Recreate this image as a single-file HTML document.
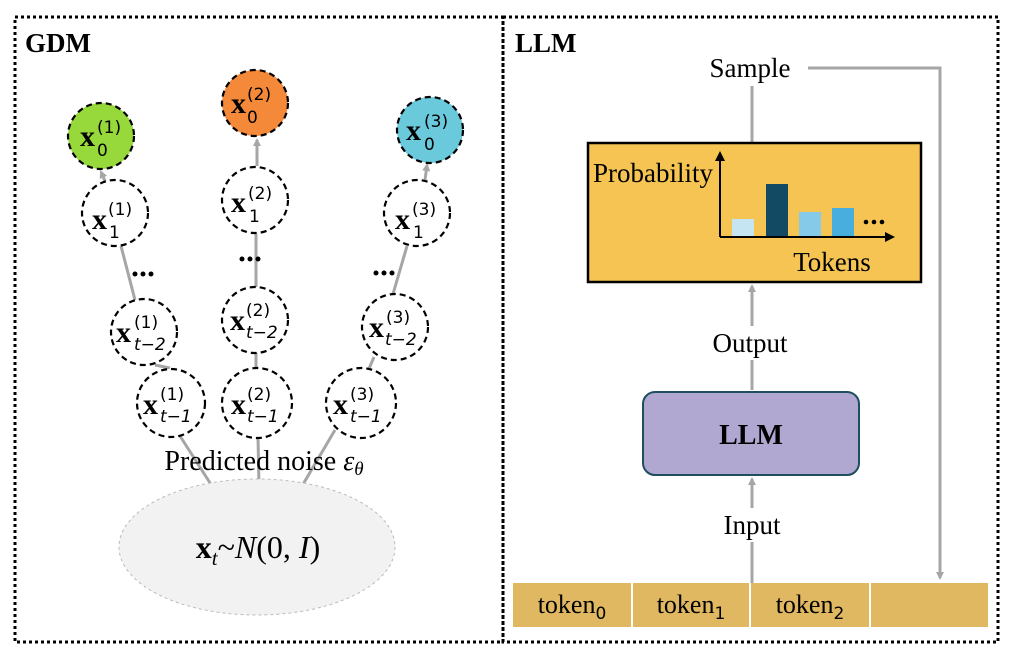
<!DOCTYPE html>
<html><head><style>body{margin:0;background:#fff}svg{display:block}</style></head><body>
<svg width="1011" height="658" viewBox="0 0 1011 658" xmlns="http://www.w3.org/2000/svg" font-family="Liberation Serif, serif">
<defs>
<marker id="ag" markerWidth="8" markerHeight="8" refX="6" refY="4" orient="auto" markerUnits="userSpaceOnUse"><path d="M0,0 L8,4 L0,8z" fill="#a6a6a6"/></marker>
<marker id="ab" markerWidth="10" markerHeight="10" refX="8" refY="5" orient="auto" markerUnits="userSpaceOnUse"><path d="M0,0 L10,5 L0,10z" fill="#000"/></marker>
</defs>
<rect x="15" y="17" width="488" height="625" fill="none" stroke="#000" stroke-width="3" stroke-dasharray="3,3"/>
<rect x="503" y="17" width="495" height="625" fill="none" stroke="#000" stroke-width="3" stroke-dasharray="3,3"/>
<text x="25" y="52" font-size="27" font-weight="bold">GDM</text>
<text x="515" y="52" font-size="27" font-weight="bold">LLM</text>
<g stroke="#a6a6a6" stroke-width="3" fill="none">
<path d="M212,486 L180,436"/><path d="M259,486 L258,437"/><path d="M302,486 L335,430"/>
<line x1="170" y1="368" x2="155" y2="365"/><line x1="256" y1="368" x2="256" y2="353"/><line x1="368" y1="371" x2="374" y2="357"/>
<line x1="135" y1="300" x2="121" y2="246"/><line x1="256" y1="287" x2="256" y2="234"/><line x1="393" y1="294" x2="407" y2="246"/>
<line x1="105" y1="181" x2="101" y2="172" marker-end="url(#ag)"/><line x1="257" y1="166" x2="257" y2="140" marker-end="url(#ag)"/><line x1="425" y1="180" x2="427" y2="165" marker-end="url(#ag)"/>
</g>
<ellipse cx="257" cy="547" rx="138" ry="68" fill="#f2f2f2" stroke="#bbb" stroke-dasharray="3,3"/>
<text x="264" y="470" font-size="28" text-anchor="middle">Predicted noise <tspan font-style="italic">ε</tspan><tspan font-style="italic" font-size="19" dy="5">θ</tspan></text>
<text x="258" y="558" font-size="32" text-anchor="middle"><tspan font-weight="bold">x</tspan><tspan font-style="italic" font-size="21" dy="7">t</tspan><tspan dy="-7">~</tspan><tspan font-style="italic">N</tspan>(0, <tspan font-style="italic">I</tspan>)</text>
<g stroke="#000" stroke-width="2.2" stroke-dasharray="6,4">
<circle cx="101" cy="136" r="33" fill="#97d83a"/><circle cx="255" cy="103" r="33" fill="#f5893a"/><circle cx="430" cy="130" r="33" fill="#6bc9dc"/>
<circle cx="115" cy="213" r="33" fill="#fff"/><circle cx="255" cy="200" r="33" fill="#fff"/><circle cx="417" cy="213" r="33" fill="#fff"/>
<circle cx="144" cy="332" r="33" fill="#fff"/><circle cx="255" cy="320" r="33" fill="#fff"/><circle cx="395" cy="327" r="33" fill="#fff"/>
<circle cx="171" cy="403" r="34" fill="#fff"/><circle cx="257" cy="403" r="35" fill="#fff"/><circle cx="361" cy="403" r="35" fill="#fff"/>
</g>
<g font-weight="bold" font-size="30">
<text x="80" y="146">x</text><text x="231" y="113">x</text><text x="406" y="140">x</text>
<text x="92" y="229">x</text><text x="231" y="212">x</text><text x="395" y="229">x</text>
<text x="116" y="342">x</text><text x="230" y="330">x</text><text x="369" y="337">x</text>
<text x="143" y="414">x</text><text x="231" y="414">x</text><text x="333" y="414">x</text>
</g>
<g font-size="17" font-family="DejaVu Sans, sans-serif">
<text x="97" y="133">(1)</text><text x="247" y="100">(2)</text><text x="424" y="127">(3)</text>
<text x="97" y="156">0</text><text x="247" y="123">0</text><text x="424" y="150">0</text>
<text x="108" y="215">(1)</text><text x="248" y="199">(2)</text><text x="412" y="215">(3)</text>
<text x="109" y="238">1</text><text x="249" y="222">1</text><text x="413" y="238">1</text>
<text x="134" y="328">(1)</text><text x="246" y="316">(2)</text><text x="386" y="323">(3)</text>
<text x="134" y="350" font-style="italic">t−2</text><text x="246" y="338" font-style="italic">t−2</text><text x="385" y="345" font-style="italic">t−2</text>
<text x="160" y="400">(1)</text><text x="247" y="400">(2)</text><text x="350" y="400">(3)</text>
<text x="160" y="422" font-style="italic">t−1</text><text x="247" y="422" font-style="italic">t−1</text><text x="350" y="422" font-style="italic">t−1</text>
</g>
<g fill="#000"><circle cx="135" cy="274" r="2.5"/><circle cx="143" cy="274" r="2.5"/><circle cx="151" cy="274" r="2.5"/>
<circle cx="242" cy="259" r="2.5"/><circle cx="250" cy="259" r="2.5"/><circle cx="258" cy="259" r="2.5"/>
<circle cx="376" cy="273" r="2.5"/><circle cx="384" cy="273" r="2.5"/><circle cx="392" cy="273" r="2.5"/></g>
<g stroke="#a6a6a6" stroke-width="3" fill="none">
<line x1="752" y1="86" x2="752" y2="142"/>
<polyline points="808,68 940,68 940,578" marker-end="url(#ag)"/>
<line x1="752" y1="326" x2="752" y2="286" marker-end="url(#ag)"/>
<line x1="752" y1="390" x2="752" y2="360"/>
<line x1="752" y1="508" x2="752" y2="479" marker-end="url(#ag)"/>
<line x1="752" y1="583" x2="752" y2="542"/>
</g>
<text x="750" y="77" font-size="27" text-anchor="middle">Sample</text>
<rect x="588" y="143" width="333" height="139" fill="#f5c453" stroke="#000" stroke-width="2.5"/>
<text x="593" y="182" font-size="27">Probability</text>
<text x="832" y="271" font-size="27" text-anchor="middle">Tokens</text>
<rect x="732" y="219" width="22" height="18" fill="#c5e5f3"/>
<rect x="766" y="184" width="22" height="53" fill="#134a63"/>
<rect x="799" y="212" width="22" height="25" fill="#85cbe9"/>
<rect x="832" y="208" width="22" height="29" fill="#48aedd"/>
<g fill="#000"><circle cx="866" cy="222" r="2.3"/><circle cx="874" cy="222" r="2.3"/><circle cx="882" cy="222" r="2.3"/></g>
<line x1="720" y1="237" x2="720" y2="153" stroke="#000" stroke-width="2" marker-end="url(#ab)"/>
<line x1="720" y1="237" x2="893" y2="237" stroke="#000" stroke-width="2" marker-end="url(#ab)"/>
<text x="750" y="352" font-size="27" text-anchor="middle">Output</text>
<rect x="643" y="392" width="216" height="83" rx="12" fill="#b0a8d0" stroke="#1f4e5f" stroke-width="2"/>
<text x="751" y="444" font-size="28" font-weight="bold" text-anchor="middle">LLM</text>
<text x="752" y="534" font-size="27" text-anchor="middle">Input</text>
<rect x="513" y="583" width="475" height="44" fill="#e0b862"/>
<g stroke="#fff" stroke-width="2"><line x1="632" y1="583" x2="632" y2="627"/><line x1="750" y1="583" x2="750" y2="627"/><line x1="870" y1="583" x2="870" y2="627"/></g>
<g font-size="26" text-anchor="middle">
<text x="572" y="613">token<tspan font-size="17" font-family="DejaVu Sans, sans-serif" dy="6">0</tspan></text>
<text x="691" y="613">token<tspan font-size="17" font-family="DejaVu Sans, sans-serif" dy="6">1</tspan></text>
<text x="810" y="613">token<tspan font-size="17" font-family="DejaVu Sans, sans-serif" dy="6">2</tspan></text>
</g>
</svg>
</body></html>
